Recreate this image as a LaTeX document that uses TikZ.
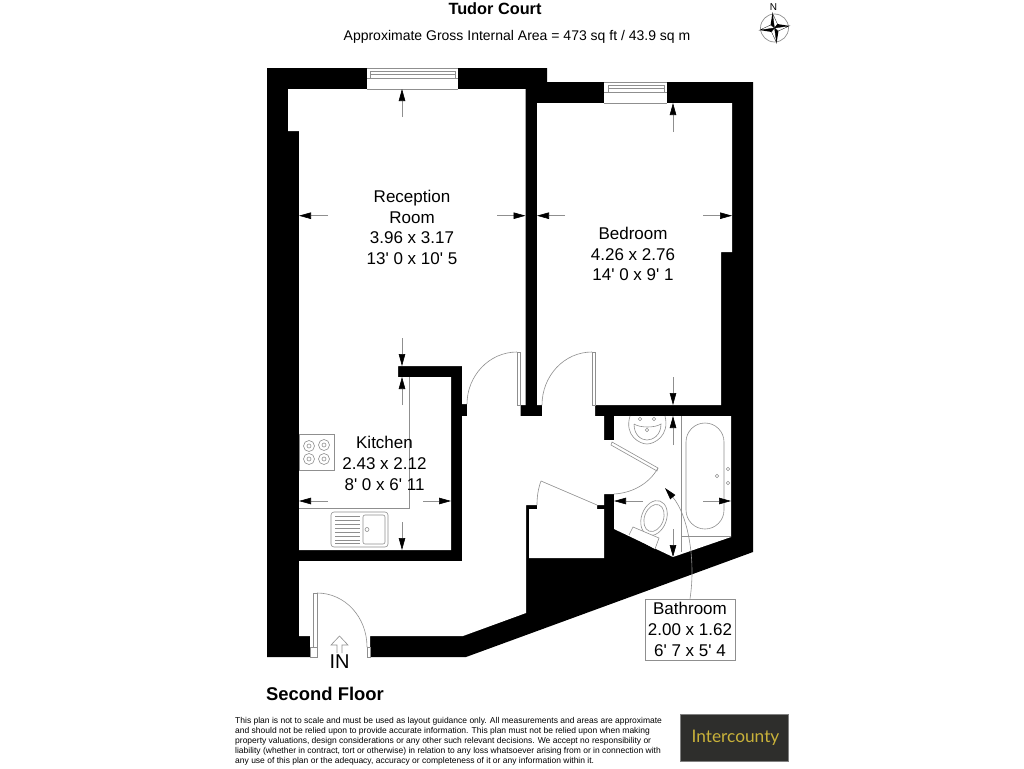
\documentclass[tikz,border=0pt]{standalone}
\usepackage{fontspec}
\setmainfont[Ligatures=TeXOff]{Liberation Sans}
\newfontfamily\logofont{Lato}
\usetikzlibrary{arrows.meta}

\definecolor{linegrey}{gray}{0.56}
\definecolor{logobg}{HTML}{2E2E2C}
\definecolor{logotext}{HTML}{C9B23A}

\tikzset{
  wallfill/.style={fill=black, draw=none},
  fixture/.style={draw=linegrey, line width=0.6pt},
  dimarrow/.style={draw=linegrey, line width=0.6pt, -{Triangle[black,length=12pt,width=6.5pt]}},
  roomtext/.style={font=\fontsize{17}{20.6}\selectfont, align=center, inner sep=0pt},
}

\begin{document}
\begin{tikzpicture}[x=1pt, y=-1pt]

  \useasboundingbox (0,0) rectangle (1024,768);

  % Walls
  \fill[wallfill] (267,68) -- (547,68) -- (547,82) -- (753,82) -- (753,552)
    -- (466,657) -- (267,657) -- cycle;

  % Rooms, all one open floor
  \fill[white] (288,89) -- (525.5,89) -- (525.5,405) -- (520.5,405) -- (520.5,416)
    -- (542,416) -- (542,405) -- (537,405) -- (537,103) -- (732,103) -- (732,252)
    -- (721,252) -- (721,405) -- (595,405) -- (595,416) -- (604,416) -- (604,440)
    -- (614,440) -- (614,416) -- (731,416) -- (731,537) -- (673,557) -- (614,529)
    -- (614,494) -- (604,494) -- (604,505) -- (597,505) -- (597,509) -- (604,509)
    -- (604,558) -- (529,558) -- (529,509) -- (537,509) -- (537,505) -- (526,505)
    -- (526,613) -- (463,636) -- (370,636) -- (370,658) -- (310,658) -- (310,636)
    -- (299,636) -- (299,561) -- (462,561) -- (462,416) -- (467,416) -- (467,404)
    -- (462,404) -- (462,366) -- (398,366) -- (398,377) -- (451,377) -- (451,550)
    -- (299,550) -- (299,131) -- (288,131) -- cycle;

  % Windows
  \fill[white] (367,67) rectangle (458,89);
  \draw[fixture] (367,68) -- (458,68);
  \draw[fixture] (367,89) -- (458,89);
  \draw[fixture] (370,71) rectangle (455,78);
  \draw[fixture] (370,74) -- (455,74);
  \draw[fixture] (367,78) -- (458,78);

  \fill[white] (604,81) rectangle (667,103);
  \draw[fixture] (604,82) -- (667,82);
  \draw[fixture] (604,103) -- (667,103);
  \draw[fixture] (608,85) rectangle (664,92);
  \draw[fixture] (608,88) -- (664,88);
  \draw[fixture] (604,92) -- (667,92);

  % Doors
  \draw[fixture] (517,352) rectangle (520.5,405);
  \draw[fixture] (517,352) .. controls (489,352) and (467,376) .. (467,404);
  \draw[fixture] (592,352) rectangle (595,405);
  \draw[fixture] (592,352) .. controls (564,352) and (542,376) .. (542,405);
  \draw[fixture] (612,442) -- (658,468) -- (657,471) -- (611,445) -- cycle;
  \draw[fixture] (658,468) .. controls (649,484) and (632,493) .. (614,494);
  \draw[fixture] (597,505) -- (541,481);
  \draw[fixture] (541,481) .. controls (538,489) and (537,497) .. (537,505);
  \draw[fixture] (313,593) rectangle (317,647);
  \draw[fixture] (310,647) rectangle (317,657);
  \draw[fixture] (367,647) rectangle (370,657);
  \draw[fixture] (317,593) .. controls (345,593) and (367,617) .. (367,647);

  % Kitchen units
  \draw[fixture] (409,377) -- (409,508) -- (299,508);
  \draw[fixture] (299,434) rectangle (334,470);
  \foreach \hobx/\hoby in {309/446, 324/445, 309/459, 324/459} {
    \draw[fixture] (\hobx,\hoby) circle [radius=5.5];
    \draw[fixture] (\hobx,\hoby) circle [radius=2];
  }
  \draw[fixture, rounded corners=3pt] (331,512) rectangle (388,547);
  \draw[fixture, rounded corners=2pt] (363,515) rectangle (385,544);
  \draw[fixture] (367,529.5) circle [radius=2];
  \foreach \liney in {516,520,524,528,532,536,540,543} {
    \draw[fixture] (335,\liney) -- (360,\liney);
  }

  % Bathroom fittings
  \draw[fixture] (630,416) .. controls (624,436) and (640,444) .. (647,444)
    .. controls (654,444) and (670,436) .. (665,416);
  \draw[fixture] (634,424) .. controls (634,436) and (642,440) .. (647,440)
    .. controls (652,440) and (661,436) .. (661,424)
    .. controls (655,428) and (640,428) .. (634,424);
  \foreach \tapx/\tapy/\tapr in {640/419/1.8, 654/419/1.8, 647/430/1.8, 728/469/1.8, 728/483/1.8, 717/476/1.8} {
    \draw[fixture] (\tapx,\tapy) circle [radius=\tapr];
  }
  \draw[fixture] (681,416) -- (681,552);
  \draw[fixture] (681,536) -- (731,536);
  \draw[fixture, rounded corners=19pt] (686,423) rectangle (724,529);
  \draw[fixture, rotate around={-20:(654,518)}] (654,518) ellipse [x radius=12.5, y radius=18];
  \draw[fixture, rotate around={-20:(654,518)}] (654,518) ellipse [x radius=9.5, y radius=14];
  \fill[white] (633,527) -- (659,538) -- (655,549) -- (629,535) -- cycle;
  \draw[fixture] (629,535) -- (633,527) -- (659,538) -- (655,549);

  % Dimension arrows
  \foreach \xa/\ya/\xb/\yb in {
    402/117/402/89, 328/215.7/299/215.7, 497/215.7/525.5/215.7,
    565/215.7/537/215.7, 703/215.7/732/215.7, 673/132/673/103,
    673/377/673/405, 402/338/402/366, 402/405/402/377,
    328/501/299/501, 423/501/451/501, 402/522/402/550,
    673/445/673/416, 673/529/673/557, 643/501/614/501, 703/501/731/501} {
    \draw[dimarrow] (\xa,\ya) -- (\xb,\yb);
  }

  % Room labels
  \node[roomtext] (reception) at (412,227.5) {Reception\\Room\\3.96 x 3.17\\13' 0 x 10' 5};
  \node[roomtext] (bedroom) at (633,254) {Bedroom\\4.26 x 2.76\\14' 0 x 9' 1};
  \node[roomtext] (kitchen) at (384.5,463.5) {Kitchen\\2.43 x 2.12\\8' 0 x 6' 11};
  \node[roomtext, draw=linegrey, line width=0.6pt, fill=white, minimum width=90pt,
    minimum height=61pt] (bathlabel) at (690,629.5) {Bathroom\\2.00 x 1.62\\6' 7 x 5' 4};
  \coordinate (bathtip) at (665,488);
  \draw[dimarrow] (bathlabel.north) .. controls (696,560) and (688,515) .. (bathtip);

  % Entrance
  \draw[fixture] (337,653) -- (337,645) -- (331,645) -- (339.5,636) -- (348,645)
    -- (342,645) -- (342,653);
  \node[font=\fontsize{20}{20}\selectfont, inner sep=0pt] (inlabel) at (339.5,662) {IN};

  % Headings
  \node[font=\bfseries\fontsize{16.3}{20}\selectfont, inner sep=0pt] (title) at (495,9) {Tudor Court};
  \node[font=\fontsize{14}{15}\selectfont, inner sep=0pt] (area) at (517,37)
    {Approximate Gross Internal Area = 473 sq ft / 43.9 sq m};
  \node[font=\bfseries\fontsize{18.4}{20}\selectfont, inner sep=0pt, anchor=west] (floor) at (266,693.5) {Second Floor};

  % Compass
  \draw[draw=linegrey, line width=0.7pt] (774.5,28) circle [radius=14];
  \foreach \a in {8,98,188,278} {
    \begin{scope}[shift={(774.5,28)}, rotate=\a]
      \fill[white] (0,0) -- (0,-15) -- (3.5,-3.5) -- cycle;
      \draw[black, line width=0.3pt] (0,0) -- (0,-15) -- (3.5,-3.5) -- cycle;
      \fill[black] (0,0) -- (0,-15) -- (-3.5,-3.5) -- cycle;
    \end{scope}
  }
  \node[font=\fontsize{10}{10}\selectfont, inner sep=0pt] (north) at (773.5,7) {N};

  % Disclaimer
  \node[font=\fontsize{8.5}{10}\selectfont, align=left, anchor=north west, inner sep=0pt] (notice) at (235,717)
    {This plan is not to scale and must be used as layout guidance only. All measurements and areas are approximate\\
     and should not be relied upon to provide accurate information. This plan must not be relied upon when making\\
     property valuations, design considerations or any other such relevant decisions. We accept no responsibility or\\
     liability (whether in contract, tort or otherwise) in relation to any loss whatsoever arising from or in connection with\\
     any use of this plan or the adequacy, accuracy or completeness of it or any information within it.};

  % Logo
  \node[fill=logobg, draw=gray, line width=0.4pt, minimum width=108pt, minimum height=47pt, inner sep=0pt,
    text=logotext, font=\logofont\fontsize{17.3}{20}\selectfont] (logo) at (734,737.5) {\hspace*{3pt}Intercounty};

\end{tikzpicture}
\end{document}
